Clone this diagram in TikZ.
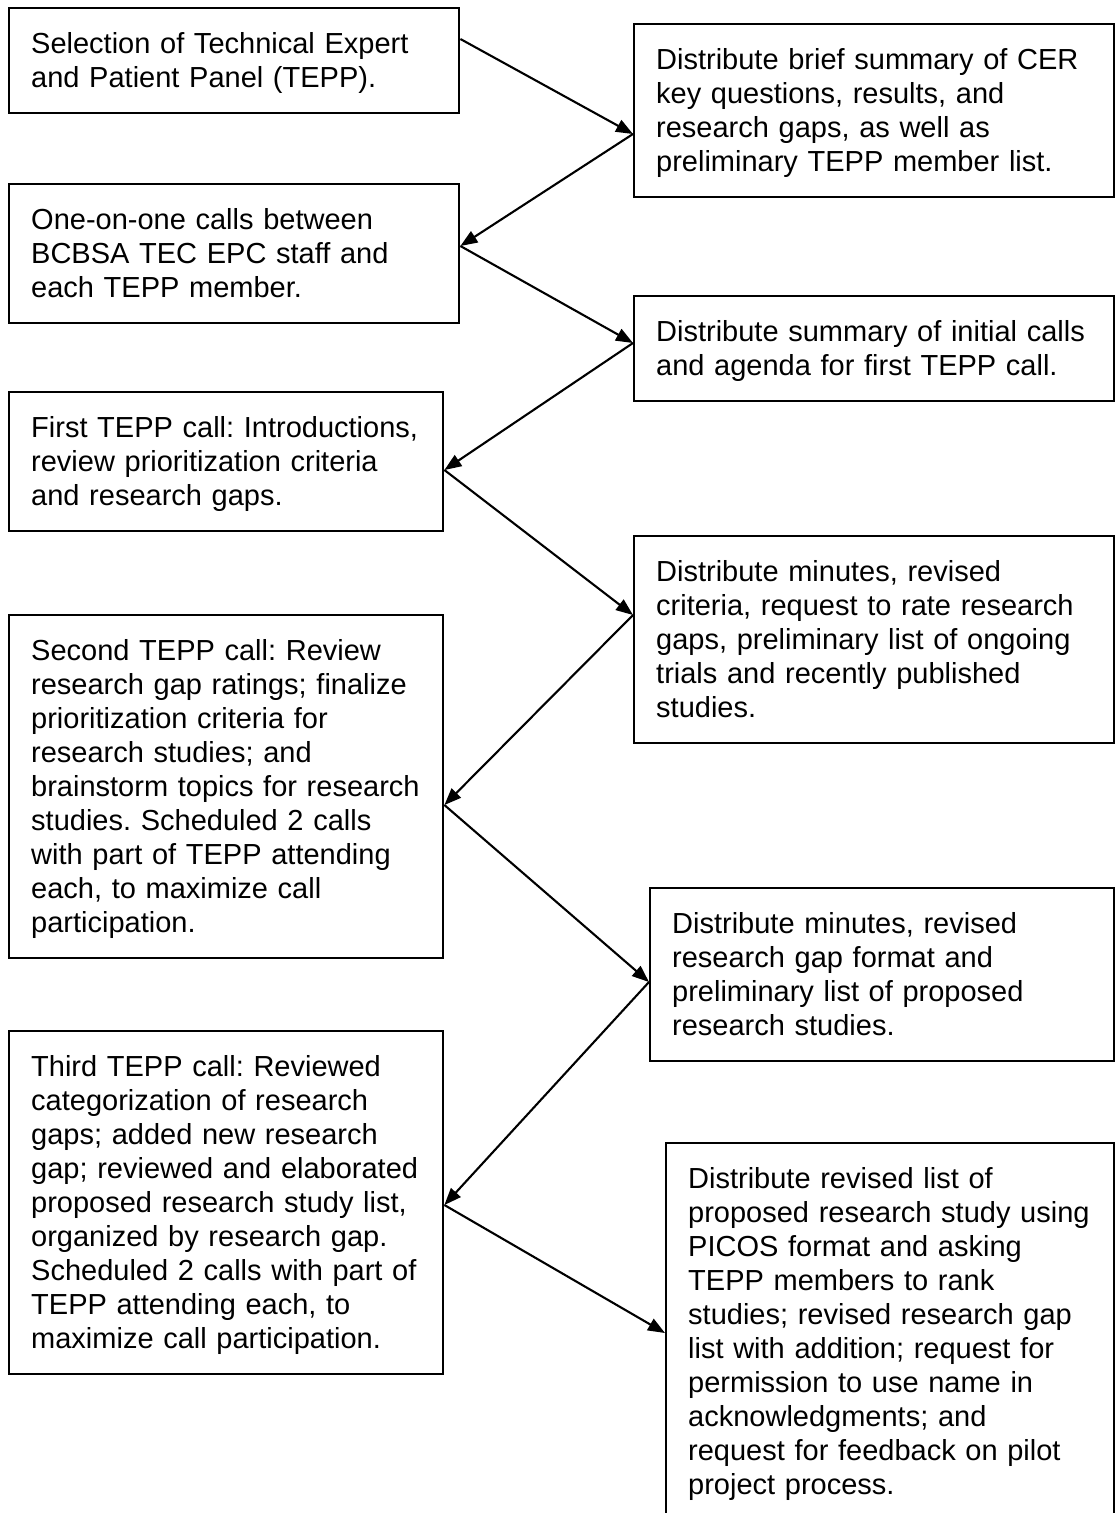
\documentclass[tikz,border=0pt]{standalone}
\usepackage{fontspec}
\setmainfont{Liberation Sans}
\usetikzlibrary{arrows.meta,calc}
\frenchspacing
\newcommand\boxstart{\frenchspacing\leftskip=22pt\rightskip=0pt plus 1fil\rule{0pt}{45pt}}
\newcommand\boxend{\rule[-26pt]{0pt}{26pt}\par}
\begin{document}
\begin{tikzpicture}[x=1pt,y=-1pt,
  stepbox/.style={draw, line width=2.4pt, anchor=north west, inner sep=0pt,
    align=left, font=\fontsize{29}{34}\selectfont},
  conn/.style={line width=2.1pt, -{Triangle[length=17pt,width=13pt]}}]
\clip (0,0) rectangle (1116,1513);
\fill[white] (0,0) rectangle (1116,1513);
% left column
\node[stepbox, text width=450pt] (b1) at (8,7)
  {\boxstart Selection of Technical Expert\\and Patient Panel (TEPP).\boxend};
\node[stepbox, text width=450pt] (b2) at (8,183)
  {\boxstart One-on-one calls between\\BCBSA TEC EPC staff and\\each TEPP member.\boxend};
\node[stepbox, text width=434pt] (b3) at (8,391)
  {\boxstart First TEPP call: Introductions,\\review prioritization criteria\\and research gaps.\boxend};
\node[stepbox, text width=434pt] (b4) at (8,614)
  {\boxstart Second TEPP call: Review\\research gap ratings; finalize\\prioritization criteria for\\research studies; and\\brainstorm topics for research\\studies. Scheduled 2 calls\\with part of TEPP attending\\each, to maximize call\\participation.\boxend};
\node[stepbox, text width=434pt] (b5) at (8,1030)
  {\boxstart Third TEPP call: Reviewed\\categorization of research\\gaps; added new research\\gap; reviewed and elaborated\\proposed research study list,\\organized by research gap.\\Scheduled 2 calls with part of\\TEPP attending each, to\\maximize call participation.\boxend};
% right column
\node[stepbox, text width=480pt] (r1) at (633,23)
  {\boxstart Distribute brief summary of CER\\key questions, results, and\\research gaps, as well as\\preliminary TEPP member list.\boxend};
\node[stepbox, text width=480pt] (r2) at (633,295)
  {\boxstart Distribute summary of initial calls\\and agenda for first TEPP call.\boxend};
\node[stepbox, text width=480pt] (r3) at (633,535)
  {\boxstart Distribute minutes, revised\\criteria, request to rate research\\gaps, preliminary list of ongoing\\trials and recently published\\studies.\boxend};
\node[stepbox, text width=464pt] (r4) at (649,887)
  {\boxstart Distribute minutes, revised\\research gap format and\\preliminary list of proposed\\research studies.\boxend};
\node[stepbox, text width=448pt] (r5) at (665,1142)
  {\boxstart Distribute revised list of\\proposed research study using\\PICOS format and asking\\TEPP members to rank\\studies; revised research gap\\list with addition; request for\\permission to use name in\\acknowledgments; and\\request for feedback on pilot\\project process.\boxend};
% connectors
\draw[conn] ($(b1.north east)+(0,32)$) -- ($(r1.north west)+(0,111)$);
\draw[conn] ($(r1.north west)+(0,111)$) -- ($(b2.north east)+(0,63)$);
\draw[conn] ($(b2.north east)+(0,63)$) -- ($(r2.north west)+(0,48)$);
\draw[conn] ($(r2.north west)+(0,48)$) -- ($(b3.north east)+(0,79)$);
\draw[conn] ($(b3.north east)+(0,79)$) -- ($(r3.north west)+(0,80)$);
\draw[conn] ($(r3.north west)+(0,80)$) -- ($(b4.north east)+(0,191)$);
\draw[conn] ($(b4.north east)+(0,191)$) -- ($(r4.north west)+(0,95)$);
\draw[conn] ($(r4.north west)+(0,95)$) -- ($(b5.north east)+(0,175)$);
\draw[conn] ($(b5.north east)+(0,175)$) -- ($(r5.north west)+(0,191)$);
\end{tikzpicture}
\end{document}
